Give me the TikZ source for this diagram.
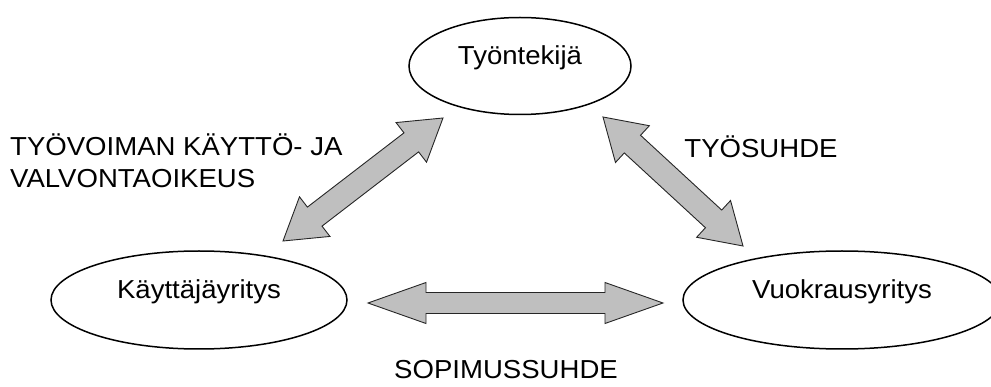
\documentclass[tikz,border=0pt]{standalone}
\usepackage{fontspec}
\setmainfont{Liberation Sans}[FakeStretch=1.06]
\usetikzlibrary{calc,shapes.geometric}

\tikzset{
	party/.style={ellipse, draw, line width=1.5pt, inner sep=0pt,
		text height=20pt, text depth=23pt, font=\fontsize{26}{32}\selectfont},
	relation/.style={inner sep=0pt, font=\fontsize{26}{32}\selectfont},
	bigarrow/.style={fill=black!25, draw=black!85, line width=0.9pt, line join=miter}
}

% fat double arrow: ends #1 and #2, head length #3, head half width #4, shaft half width #5
\newcommand{\fatarrow}[5]{
	\draw[bigarrow] (#1)
	-- ($(#1)!#3!(#2)!#4!90:(#2)$) -- ($(#1)!#3!(#2)!#5!90:(#2)$)
	-- ($(#2)!#3!(#1)!#5!-90:(#1)$) -- ($(#2)!#3!(#1)!#4!-90:(#1)$)
	-- (#2)
	-- ($(#2)!#3!(#1)!#4!90:(#1)$) -- ($(#2)!#3!(#1)!#5!90:(#1)$)
	-- ($(#1)!#3!(#2)!#5!-90:(#2)$) -- ($(#1)!#3!(#2)!#4!-90:(#2)$)
	-- cycle;
}

\begin{document}
\begin{tikzpicture}[x=1pt, y=-1pt]
	\useasboundingbox (0,0) rectangle (991,387);

	% parties
	\node[party, minimum width=222pt, minimum height=97pt] (tyontekija) at (520,66) {Työntekijä};
	\node[party, minimum width=296pt, minimum height=98pt] (kayttaja) at (199,300) {Käyttäjäyritys};
	\node[party, minimum width=318pt, minimum height=98pt] (vuokraus) at (842,300) {Vuokrausyritys};

	% arrow ends
	\coordinate (valvA) at (283,241);
	\coordinate (valvB) at (443,118);
	\coordinate (suhdeA) at (603,117);
	\coordinate (suhdeB) at (743,246);
	\coordinate (sopA) at (368,303);
	\coordinate (sopB) at (663,303);

	\fatarrow{valvA}{valvB}{40pt}{25pt}{12pt}
	\fatarrow{suhdeA}{suhdeB}{40pt}{25pt}{12pt}
	\fatarrow{sopA}{sopB}{58pt}{20.5pt}{10.5pt}

	% relations
	\node[relation, anchor=base west, align=left] (valvonta) at (10,188) {TYÖVOIMAN KÄYTTÖ- JA\\VALVONTAOIKEUS};
	\node[relation, anchor=base] (tyosuhde) at (761,158) {TYÖSUHDE};
	\node[relation, anchor=base] (sopimus) at (506,378) {SOPIMUSSUHDE};
\end{tikzpicture}
\end{document}
